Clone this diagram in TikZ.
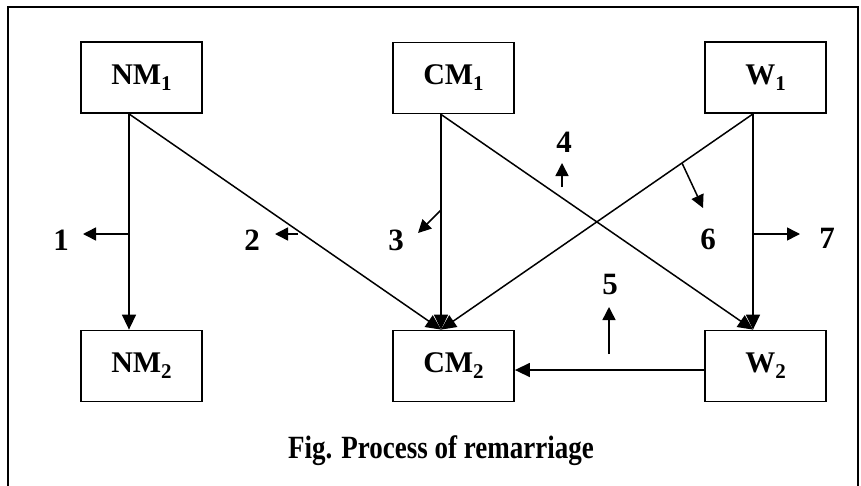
\documentclass[tikz,border=0pt]{standalone}
\usepackage{fontspec}
\setmainfont{Liberation Serif}
\usetikzlibrary{arrows.meta,calc}
\tikzset{
  box/.style={draw, line width=1.8pt, minimum width=121pt, minimum height=71pt, inner sep=0pt,
    font=\fontsize{30}{36}\selectfont\bfseries},
  conn/.style={line width=1.5pt, -{Triangle[length=15pt,width=14pt]}},
  small/.style={line width=1.5pt, -{Triangle[length=13pt,width=13pt]}},
  num/.style={inner sep=0pt, font=\fontsize{31}{36}\selectfont\bfseries},
  frame/.style={line width=1.5pt}
}
\newcommand{\sbs}[1]{\raisebox{-0.2em}{\fontsize{21}{24}\selectfont #1}}
\begin{document}
\begin{tikzpicture}[x=1pt,y=-1pt]
\useasboundingbox (0,0) rectangle (861,485);
% outer frame (open at the bottom)
\coordinate (fbl) at (8,486);
\coordinate (ftl) at (8,7);
\coordinate (ftr) at (858,7);
\coordinate (fbr) at (858,486);
\draw[frame] (fbl) -- (ftl) -- (ftr) -- (fbr);
% boxes
\node[box] (NM1) at (141.5,77.5) {NM\sbs{1}};
\node[box] (CM1) at (453.5,78) {CM\sbs{1}};
\node[box] (W1)  at (765.5,77.5) {W\sbs{1}};
\node[box] (NM2) at (141.5,366) {NM\sbs{2}};
\node[box] (CM2) at (453.5,366) {CM\sbs{2}};
\node[box] (W2)  at (765.5,366) {W\sbs{2}};
% attachment points
\coordinate (nmo) at ([xshift=-12.5pt]NM1.south);
\coordinate (cmo) at ([xshift=-12.5pt]CM1.south);
\coordinate (wo)  at ([xshift=-12.5pt]W1.south);
\coordinate (nmi) at ([xshift=-12.5pt]NM2.north);
\coordinate (cmi) at ([xshift=-12.5pt]CM2.north);
\coordinate (wi)  at ([xshift=-12.5pt]W2.north);
% main connectors
\draw[conn] (nmo) -- (nmi);
\draw[conn] (nmo) -- (cmi);
\draw[conn] (cmo) -- (cmi);
\draw[conn] (cmo) -- (wi);
\draw[conn] (wo) -- (cmi);
\draw[conn] (wo) -- (wi);
\draw[conn] (W2.west |- 0,370) -- (CM2.east |- 0,370);
% small arrows
\coordinate (a1s) at (129,234); \coordinate (a1e) at (83,234);
\coordinate (a2s) at (298,234); \coordinate (a2e) at (275,234);
\coordinate (a3s) at (441,210); \coordinate (a3e) at (418,233);
\coordinate (a4s) at (562,187); \coordinate (a4e) at (562,163);
\coordinate (a5s) at (609,354); \coordinate (a5e) at (609,307);
\coordinate (a6s) at (682,163); \coordinate (a6e) at (703,208);
\coordinate (a7s) at (753,234); \coordinate (a7e) at (800,234);
\draw[small] (a1s) -- (a1e);
\draw[small] (a2s) -- (a2e);
\draw[small] (a3s) -- (a3e);
\draw[small] (a4s) -- (a4e);
\draw[small] (a5s) -- (a5e);
\draw[small] (a6s) -- (a6e);
\draw[small] (a7s) -- (a7e);
% labels
\node[num] (l1) at (61,240) {1};
\node[num] (l2) at (252,240) {2};
\node[num] (l3) at (396,240) {3};
\node[num] (l4) at (564,142) {4};
\node[num] (l5) at (610,284) {5};
\node[num] (l6) at (708,239) {6};
\node[num] (l7) at (827,238) {7};
% caption
\node[anchor=base, inner sep=0pt, yscale=1.2, font=\fontsize{27}{32}\selectfont\bfseries] (cap) at (441,458) {Fig. Process of remarriage};
\end{tikzpicture}
\end{document}
